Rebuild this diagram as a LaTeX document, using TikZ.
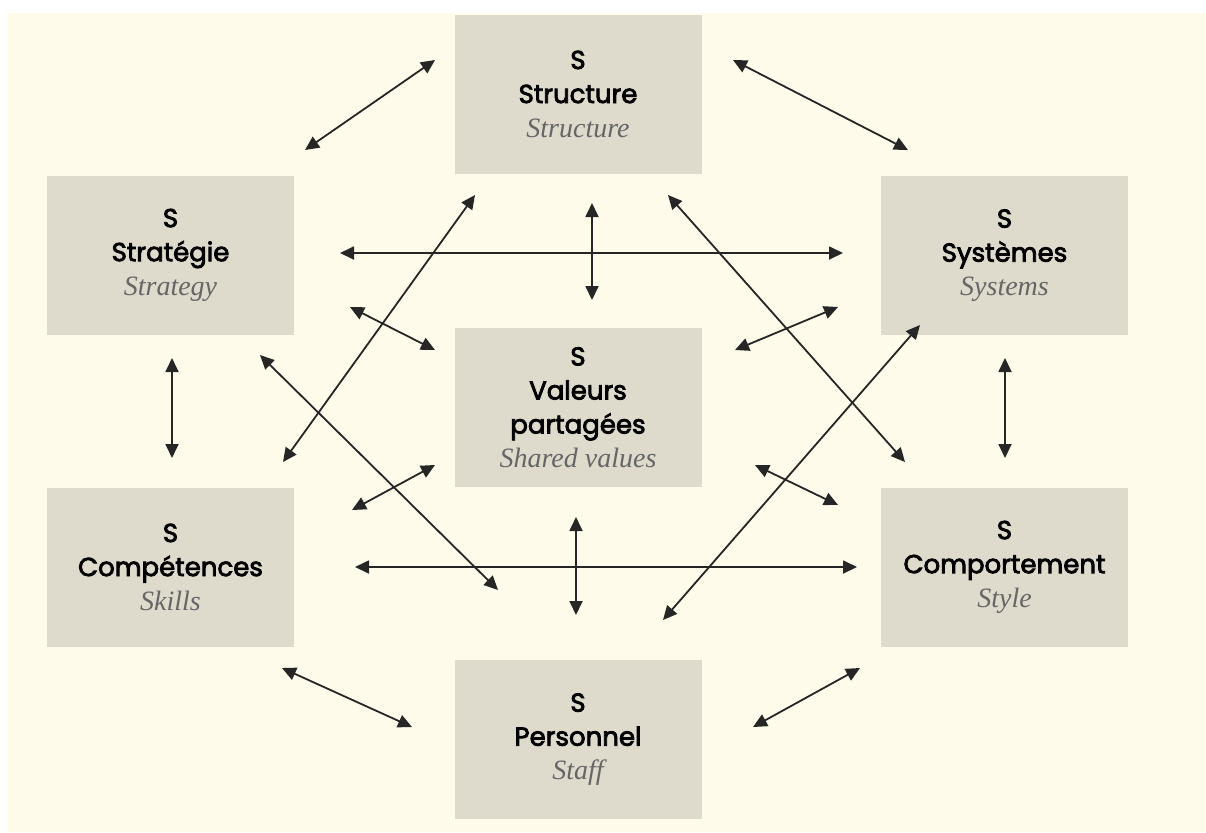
\documentclass[tikz,border=0pt]{standalone}
\usepackage{fontspec}
\setmainfont{Liberation Serif}
\newfontfamily\hdfont{Poppins}[FakeBold=3]
\usetikzlibrary{arrows.meta}
\definecolor{cream}{HTML}{FFFBEA}
\definecolor{boxgray}{HTML}{DEDBCD}
\definecolor{textgray}{HTML}{666666}
% one French title line, one English gloss line
\newcommand{\hd}[1]{{\hdfont #1}}
\newcommand{\en}[1]{{\fontsize{14}{17}\selectfont\itshape\color{textgray}#1}}
\begin{document}
\begin{tikzpicture}[x=0.5pt,y=-0.5pt,
  sbx/.style={fill=boxgray,minimum width=123.5pt,minimum height=79.5pt,inner sep=0pt,
    align=center,font=\fontsize{13}{17}\selectfont},
  dbl/.style={{Triangle[length=7pt,width=6.5pt]}-{Triangle[length=7pt,width=6.5pt]},line width=0.9pt,black!85}]
\useasboundingbox (0,0) rectangle (1206,832);
\fill[cream] (8,13) rectangle (1206,832);

\node[sbx] (struct)  at (578,94)      {\hd{S}\\\hd{Structure}\\\en{Structure}};
\node[sbx] (strat)   at (170.5,255)   {\hd{S}\\\hd{Stratégie}\\\en{Strategy}};
\node[sbx] (syst)    at (1004.5,255.5){\hd{S}\\\hd{Systèmes}\\\en{Systems}};
\node[sbx] (val)     at (578,407.5)   {\hd{S}\\\hd{Valeurs}\\\hd{partagées}\\\en{Shared values}};
\node[sbx] (comp)    at (170.5,567)   {\hd{S}\\\hd{Compétences}\\\en{Skills}};
\node[sbx] (comport) at (1004.5,567)  {\hd{S}\\\hd{Comportement}\\\en{Style}};
\node[sbx] (pers)    at (578,739.5)   {\hd{S}\\\hd{Personnel}\\\en{Staff}};

% outer ring
\draw[dbl] ([shift={(-143,-34)}]struct.center) -- ([shift={(134.5,-105)}]strat.center);
\draw[dbl] ([shift={(155,-34)}]struct.center) -- ([shift={(-96.5,-105.5)}]syst.center);
\draw[dbl] ([shift={(1.5,103)}]strat.center) -- ([shift={(1.5,-109)}]comp.center);
\draw[dbl] ([shift={(0.5,102.5)}]syst.center) -- ([shift={(0.5,-109)}]comport.center);
\draw[dbl] ([shift={(111.5,101)}]comp.center) -- ([shift={(-166,-12.5)}]pers.center);
\draw[dbl] ([shift={(-144.5,101)}]comport.center) -- ([shift={(175,-12.5)}]pers.center);

% horizontals
\draw[dbl] ([shift={(169.5,-2)}]strat.center) -- ([shift={(-161.5,-2.5)}]syst.center);
\draw[dbl] ([shift={(184.5,0)}]comp.center) -- ([shift={(-147.5,0)}]comport.center);

% to the centre
\draw[dbl] ([shift={(14,109)}]struct.center) -- ([shift={(14,-107.5)}]val.center);
\draw[dbl] ([shift={(-2,109.5)}]val.center) -- ([shift={(-2,-124.5)}]pers.center);
\draw[dbl] ([shift={(179.5,52)}]strat.center) -- ([shift={(-143,-57.5)}]val.center);
\draw[dbl] ([shift={(-166.5,51.5)}]syst.center) -- ([shift={(157,-57.5)}]val.center);
\draw[dbl] ([shift={(-143,57.5)}]val.center) -- ([shift={(181.5,-57)}]comp.center);
\draw[dbl] ([shift={(177,57.5)}]val.center) -- ([shift={(-166.5,-62)}]comport.center);

% long diagonals
\draw[dbl] ([shift={(-103,101)}]struct.center) -- ([shift={(112.5,-105)}]comp.center);
\draw[dbl] ([shift={(90,101)}]struct.center) -- ([shift={(-99.5,-105)}]comport.center);
\draw[dbl] ([shift={(89.5,100)}]strat.center) -- ([shift={(-80,-149.5)}]pers.center);
\draw[dbl] ([shift={(-84.5,69.5)}]syst.center) -- ([shift={(85,-119.5)}]pers.center);
\end{tikzpicture}
\end{document}
